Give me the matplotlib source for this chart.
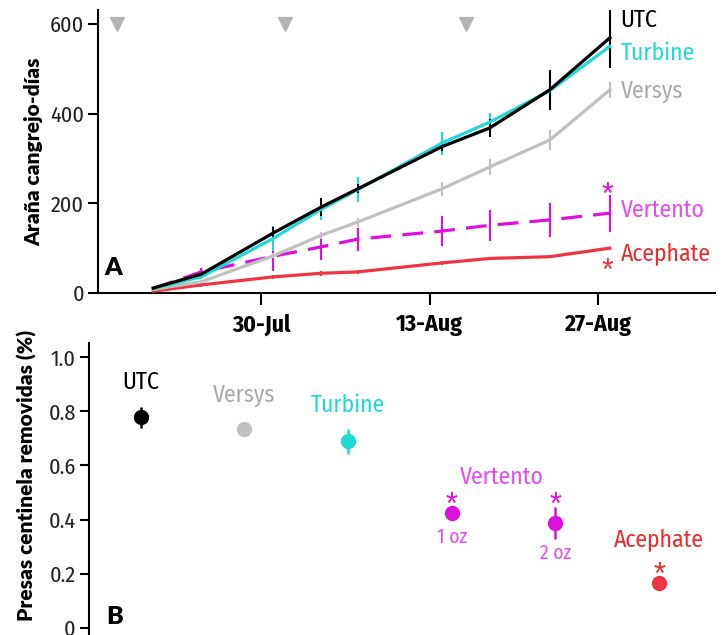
import datetime as dt
import matplotlib
matplotlib.use("Agg")
import matplotlib.pyplot as plt
import matplotlib.dates as mdates
from matplotlib import font_manager as fm

# --- fonts ---
names = {f.name for f in fm.fontManager.ttflist}
COND = "Fira Sans Condensed" if "Fira Sans Condensed" in names else "DejaVu Sans"
BOLD = "Lato" if "Lato" in names else "DejaVu Sans"

# --- data: panel A (cumulative spider crab-days) ---
sample_dates = ["07-21", "07-25", "07-31", "08-04", "08-07", "08-14", "08-18", "08-23", "08-28"]
utc = [11, 42, 134, 192, 232, 326, 368, 453, 569]
utc_err = [3, 5, 13, 20, 10, 10, 20, 45, 67]
turbine = [10, 36, 122, 187, 230, 334, 381, 451, 550]
turbine_err = [3, 5, 28, 24, 28, 26, 20, 20, 30]
versys = [8, 25, 83, 129, 158, 232, 281, 341, 453]
versys_err = [2, 4, 6, 8, 10, 15, 18, 22, 18]
vertento = [10, 47, 82, 103, 120, 138, 151, 163, 178]
vertento_err = [2, 8, 32, 30, 26, 33, 35, 38, 41]
acephate = [4, 18, 36, 44, 47, 67, 77, 81, 100]
acephate_err = [1, 4, 5, 5, 4, 4, 3, 3, 3]
spray_dates = ["07-18", "08-01", "08-16"]
spray_level = 600

# --- data: panel B (sentinel prey removed) ---
b_groups = ["UTC", "Versys", "Turbine", "Vertento 1 oz", "Vertento 2 oz", "Acephate"]
b_vals = [0.777, 0.735, 0.689, 0.423, 0.387, 0.165]
b_err = [0.037, 0.02, 0.045, 0.02, 0.058, 0.02]

C_UTC = "#000000"
C_TUR = "#1fd9d6"
C_VER = "#c0c0c0"
C_VNT = "#dd0fdd"
C_ACE = "#ee3344"
T_VER = "#a9a9a9"
T_VNT = "#e54cef"
T_ACE = "#ee2a2a"


def to_date(s):
    return dt.datetime.strptime("2016-" + s, "%Y-%m-%d")


x = [to_date(s) for s in sample_dates]

fig = plt.figure(figsize=(7.25, 6.35), dpi=100)

# ---------------- panel A ----------------
ax = fig.add_axes([98 / 725, 1 - 293 / 635, 617 / 725, 283 / 635])

series = [
    (acephate, acephate_err, C_ACE, "-"),
    (vertento, vertento_err, C_VNT, "--"),
    (versys, versys_err, C_VER, "-"),
    (turbine, turbine_err, C_TUR, "-"),
    (utc, utc_err, C_UTC, "-"),
]
for vals, errs, col, ls in series:
    ax.errorbar(x, vals, yerr=errs, color=col, ecolor=col, elinewidth=1.5,
                capsize=0, lw=2.3, ls=ls, zorder=3)
# longer dashes for Vertento
for ln in ax.get_lines():
    if ln.get_linestyle() == "--":
        ln.set_dashes((6.5, 3.5))

ax.plot([to_date(s) for s in spray_dates], [spray_level] * len(spray_dates),
        ls="none", marker="v", ms=10, color="#b3b3b3", zorder=4)

ax.set_xlim(to_date("07-30") - dt.timedelta(days=13.6),
            to_date("08-27") + dt.timedelta(days=9.75))
ax.set_ylim(0, 631)
ax.set_xticks([to_date("07-30"), to_date("08-13"), to_date("08-27")])
ax.xaxis.set_major_formatter(mdates.DateFormatter("%d-%b"))
ax.set_yticks([0, 200, 400, 600])
for sp in ["top", "right"]:
    ax.spines[sp].set_visible(False)
for sp in ["left", "bottom"]:
    ax.spines[sp].set_linewidth(1.5)
ax.tick_params(axis="x", direction="out", length=8.5, width=1.5, pad=6)
ax.tick_params(axis="y", direction="out", length=7, width=1.5, pad=3)
for lab in ax.get_xticklabels():
    lab.set_fontfamily(COND)
    lab.set_fontweight("bold")
    lab.set_fontsize(17)
for lab in ax.get_yticklabels():
    lab.set_fontfamily(COND)
    lab.set_fontsize(16)
    lab.set_color("#222222")

ax.set_ylabel("Araña cangrejo-días", fontfamily=BOLD, fontweight="heavy", fontsize=15)
ax.yaxis.set_label_coords(-0.089, 0.5)
ax.text(0.011, 0.088, "A", transform=ax.transAxes, fontfamily=BOLD,
        fontweight="heavy", fontsize=18, va="center", ha="left")

lab_x = to_date("08-28") + dt.timedelta(days=0.9)
for txt, yv, col in [("UTC", 609, C_UTC), ("Turbine", 535, C_TUR), ("Versys", 449, T_VER),
                     ("Vertento", 185, T_VNT), ("Acephate", 89, T_ACE)]:
    ax.text(lab_x, yv, txt, color=col, fontfamily=COND, fontsize=17, va="center", ha="left")

ast_x = to_date("08-28") - dt.timedelta(days=0.2)
for yv, col in [(236, C_VNT), (67, C_ACE)]:
    ax.annotate("*", xy=(ast_x, yv), xytext=(0, -12), textcoords="offset points",
                ha="center", va="baseline", color=col, fontsize=22,
                fontfamily="Liberation Sans")

# ---------------- panel B ----------------
bx = fig.add_axes([89 / 725, 0, 626 / 725, 292 / 635])
b_cols = [C_UTC, C_VER, C_TUR, C_VNT, C_VNT, C_ACE]
pos = list(range(1, len(b_groups) + 1))
for p, v, e, c in zip(pos, b_vals, b_err, b_cols):
    bx.errorbar([p], [v], yerr=[e], fmt="o", ms=10, color=c, ecolor=c,
                elinewidth=1.8, capsize=0, zorder=3)

bx.set_xlim(0.5, 6.54)
bx.set_ylim(-0.026, 1.052)
bx.set_yticks([0, 0.2, 0.4, 0.6, 0.8, 1.0])
bx.set_yticklabels(["0", "0.2", "0.4", "0.6", "0.8", "1.0"])
bx.set_xticks([])
for sp in ["top", "right", "bottom"]:
    bx.spines[sp].set_visible(False)
bx.spines["left"].set_linewidth(1.5)
bx.tick_params(axis="y", direction="out", length=6.5, width=1.5, pad=3)
for lab in bx.get_yticklabels():
    lab.set_fontfamily(COND)
    lab.set_fontsize(16)
    lab.set_color("#222222")
bx.set_ylabel("Presas centinela removidas (%)", fontfamily=BOLD, fontweight="heavy",
              fontsize=15)
bx.yaxis.set_label_coords(-0.083, 0.545)
bx.text(0.027, 0.06, "B", transform=bx.transAxes, fontfamily=BOLD,
        fontweight="heavy", fontsize=18, va="center", ha="left")

for txt, xp, yp, col, fs in [("UTC", 1, 0.908, C_UTC, 17), ("Versys", 2, 0.86, T_VER, 17),
                             ("Turbine", 3, 0.823, C_TUR, 17),
                             ("Vertento", 4.48, 0.557, T_VNT, 17),
                             ("1 oz", 4, 0.336, T_VNT, 14), ("2 oz", 5, 0.277, T_VNT, 14),
                             ("Acephate", 6, 0.328, T_ACE, 17)]:
    bx.text(xp, yp, txt, color=col, fontfamily=COND, fontsize=fs, ha="center", va="center")

for xp, yp, col in [(4, 0.483, C_VNT), (5, 0.483, C_VNT), (6, 0.225, T_ACE)]:
    bx.annotate("*", xy=(xp, yp), xytext=(0, -12), textcoords="offset points",
                ha="center", va="baseline", color=col, fontsize=22,
                fontfamily="Liberation Sans")

fig.savefig("out.png", dpi=100)
